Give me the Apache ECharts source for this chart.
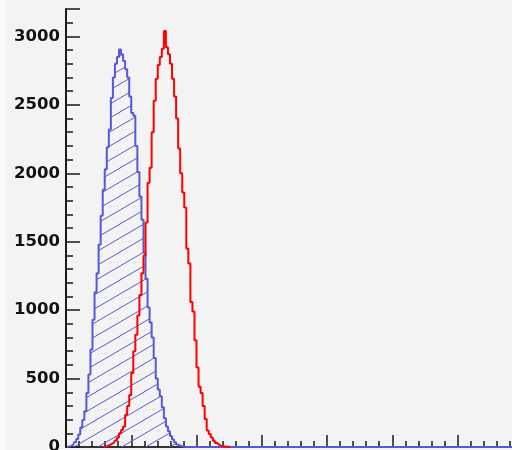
<!DOCTYPE html>
<html><head><meta charset="utf-8">
<script src="https://cdn.jsdelivr.net/npm/echarts@6/dist/echarts.min.js"></script>
<style>html,body{margin:0;padding:0;background:#f3f3f3}#c{width:512px;height:450px}</style>
</head><body><div id="c"></div>
<script>
// histogram binning: 32 bins per x unit, 256 bins over 0..8
const binsPerUnit = 32;
const nBins = 256;
const yTickLabels = [0, 500, 1000, 1500, 2000, 2500, 3000];
// blue (hatched) histogram, starting at bin 0
const blueStart = 0;
const blueValues = [0,3,8,15,35,58,92,142,197,262,395,530,712,930,1130,1270,1480,1690,1880,2030,2190,2320,2550,2700,2800,2850,2905,2870,2820,2760,2700,2560,2440,2420,2200,2010,1830,1660,1420,1230,1020,910,800,650,500,420,370,290,210,150,115,80,55,35,18,10,5,2,0];
// red histogram, starting at bin 18
const redStart = 18;
const redValues = [0,4,8,15,22,32,47,70,100,125,150,235,300,380,540,700,820,960,1110,1270,1400,1640,1930,2040,2300,2530,2690,2790,2850,2910,3040,2920,2870,2800,2690,2560,2400,2180,2000,1860,1750,1450,1340,1060,990,780,580,440,395,300,205,120,95,70,45,30,18,10,6,4,2,1,0];

function center(k){ return (k + 0.5) / binsPerUnit; }
const blueData = [];
for (let k = 0; k < nBins; k++) {
  const i = k - blueStart;
  blueData.push([center(k), (i >= 0 && i < blueValues.length) ? blueValues[i] : 0]);
}
const redData = redValues.map((v, i) => [center(redStart + i), v]);

const blue = '#5858d8';
const cv = document.createElement('canvas');
cv.width = 24; cv.height = 14;
const ctx = cv.getContext('2d');
ctx.strokeStyle = blue; ctx.lineWidth = 1;
for (let n = -1; n <= 1; n++) {
  ctx.beginPath();
  ctx.moveTo(0, 14 + n * 14);
  ctx.lineTo(24, 0 + n * 14);
  ctx.stroke();
}

const ink = '#1a1a1a';
const chart = echarts.init(document.getElementById('c'), null, {renderer: 'canvas'});
chart.setOption({
  animation: false,
  backgroundColor: '#f3f3f3',
  graphic: [{type: 'rect', left: 0, top: 0, shape: {width: 5, height: 450}, style: {fill: '#fbfbfb'}, z: -1}],
  grid: {left: 66, top: 9, width: 522, bottom: 3, outerBoundsMode: 'none', containLabel: false},
  xAxis: [
    {type: 'value', min: 0, max: 8, interval: 1,
     axisLine: {show: true, onZero: false, lineStyle: {color: ink, width: 2}},
     axisTick: {show: true, inside: true, length: 12, lineStyle: {color: ink, width: 1.5}},
     minorTick: {show: true, splitNumber: 5, length: 6, lineStyle: {color: ink, width: 1.5}},
     axisLabel: {show: false}, splitLine: {show: false}},
    {type: 'value', position: 'top', min: 0, max: 8,
     axisLine: {show: true, lineStyle: {color: '#333', width: 2}},
     axisTick: {show: false}, axisLabel: {show: false}, splitLine: {show: false}}
  ],
  yAxis: [
    {type: 'value', min: 0, max: 3200, interval: 500,
     axisLine: {show: true, lineStyle: {color: ink, width: 2}},
     axisTick: {show: true, inside: true, length: 14, lineStyle: {color: ink, width: 1.5}},
     axisLabel: {margin: 6, fontFamily: 'DejaVu Sans', fontWeight: 'bold', fontSize: 16.5, color: '#111',
       formatter: v => yTickLabels.includes(v) ? String(v) : ''},
     splitLine: {show: false}},
    {type: 'value', min: 0, max: 3200, interval: 100, position: 'left',
     axisLine: {show: false},
     axisTick: {show: true, inside: true, length: 7, lineStyle: {color: ink, width: 1.5}},
     axisLabel: {show: false}, splitLine: {show: false}}
  ],
  series: [
    {type: 'line', step: 'middle', data: blueData, showSymbol: false, z: 2,
     lineStyle: {color: blue, width: 2},
     areaStyle: {color: {image: cv, repeat: 'repeat'}, opacity: 1}},
    {type: 'line', step: 'middle', data: redData, showSymbol: false, z: 3,
     lineStyle: {color: '#ff0000', width: 2}}
  ]
});
</script></body></html>
